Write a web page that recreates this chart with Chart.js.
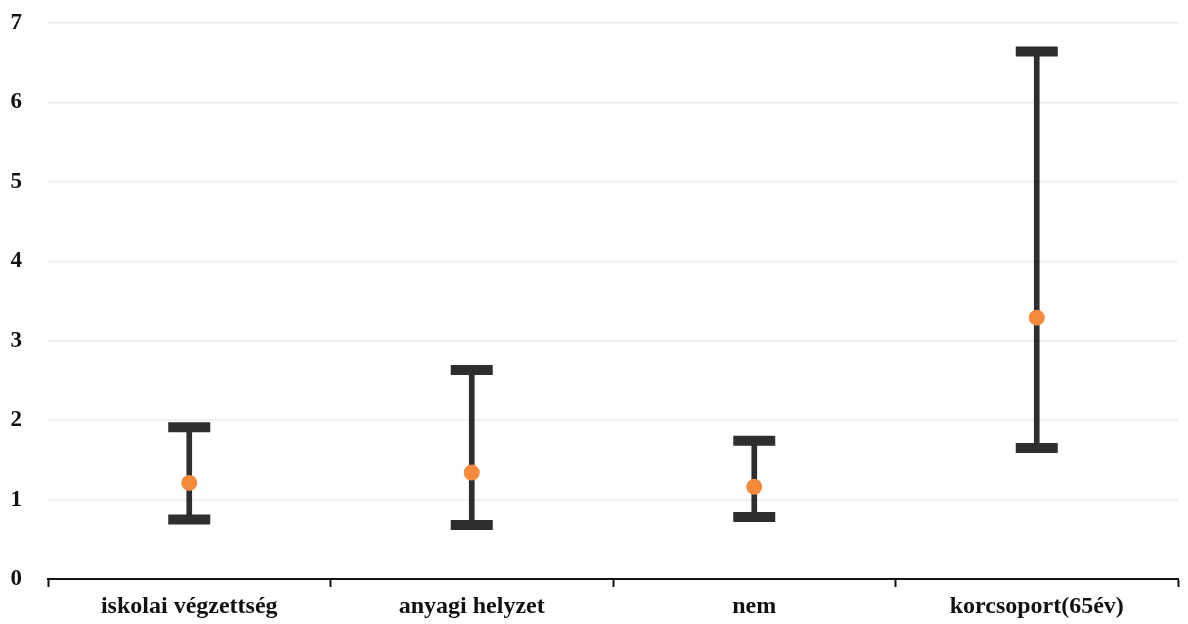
<!DOCTYPE html>
<html>
<head>
<meta charset="utf-8">
<script src="https://cdn.jsdelivr.net/npm/chart.js@4"></script>
<style>
  html, body { margin: 0; padding: 0; background: #fff; }
  #wrap { width: 1188px; height: 624px; }
</style>
</head>
<body>
<div id="wrap"><canvas id="myChart"></canvas></div>
<script>
// Categories and values (point estimate with lower / upper limits)
const labels = ['iskolai végzettség', 'anyagi helyzet', 'nem', 'korcsoport(65év)'];
const estimates = [1.21, 1.34, 1.16, 3.29];
const lowerLimits = [0.75, 0.68, 0.78, 1.65];
const upperLimits = [1.91, 2.63, 1.74, 6.64];
const yTicks = [0, 1, 2, 3, 4, 5, 6, 7];

const barColor = '#2c2f2e';
const dotColor = '#f58a3c';
const fontFamily = '"Liberation Serif", "Times New Roman", serif';

const ctx = document.getElementById('myChart').getContext('2d');

new Chart(ctx, {
    type: 'bar',
    data: {
        labels: labels,
        datasets: [
            {
                // point estimate
                type: 'line',
                data: estimates,
                showLine: false,
                pointRadius: 8,
                pointHoverRadius: 8,
                pointBackgroundColor: dotColor,
                pointBorderWidth: 0,
                order: 0
            },
            {
                // upper cap
                type: 'line',
                data: upperLimits,
                showLine: false,
                pointStyle: 'line',
                pointRadius: 21,
                pointBorderWidth: 10,
                pointBorderColor: barColor,
                order: 1
            },
            {
                // lower cap
                type: 'line',
                data: lowerLimits,
                showLine: false,
                pointStyle: 'line',
                pointRadius: 21,
                pointBorderWidth: 10,
                pointBorderColor: barColor,
                order: 1
            },
            {
                // whisker between the limits
                type: 'bar',
                data: lowerLimits.map((lo, i) => [lo, upperLimits[i]]),
                backgroundColor: barColor,
                barThickness: 5,
                borderSkipped: false,
                order: 2
            }
        ]
    },
    options: {
        responsive: true,
        maintainAspectRatio: false,
        animation: false,
        layout: { autoPadding: false, padding: { top: 23, right: 10, left: 0, bottom: 0 } },
        plugins: {
            legend: { display: false },
            tooltip: { enabled: false }
        },
        scales: {
            x: {
                offset: true,
                grid: {
                    offset: true,
                    drawOnChartArea: false,
                    drawTicks: true,
                    tickLength: 8,
                    tickWidth: 2,
                    color: '#111'
                },
                border: { display: true, color: '#111', width: 2 },
                ticks: {
                    color: '#111',
                    font: { family: fontFamily, size: 24, weight: 'bold' },
                    padding: 5,
                    maxRotation: 0
                },
                afterFit: scale => { scale.height = 45; }
            },
            y: {
                min: 0,
                max: 7,
                afterBuildTicks: scale => {
                    scale.ticks = yTicks.map(v => ({ value: v }));
                },
                grid: {
                    drawTicks: false,
                    color: ctx => ctx.tick.value === 0 ? 'rgba(0,0,0,0)' : '#ececec',
                    lineWidth: 1.5
                },
                border: { display: false },
                ticks: {
                    color: '#111',
                    font: { family: fontFamily, size: 23, weight: 'bold' },
                    padding: 26
                },
                afterFit: scale => {
                    scale.width = 48;
                    scale.paddingTop = 0;
                    scale.paddingBottom = 0;
                }
            }
        }
    }
});
</script>
</body>
</html>
